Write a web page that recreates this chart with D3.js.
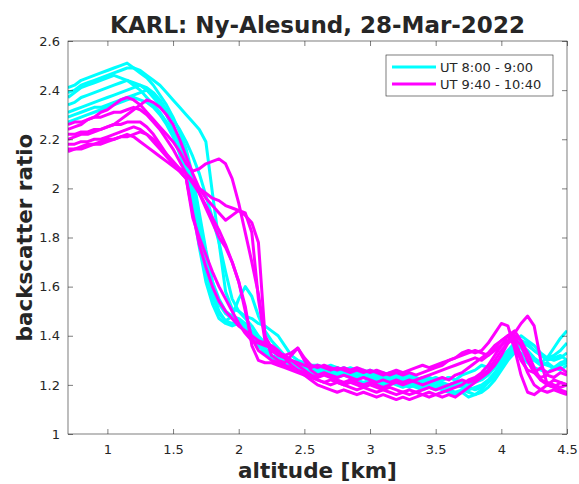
<!DOCTYPE html>
<html>
<head>
<meta charset="utf-8">
<script src="https://cdn.jsdelivr.net/npm/d3@7"></script>
<style>
body { margin: 0; background: #fff; }
text { font-family: "DejaVu Sans", sans-serif; fill: #262626; }
</style>
</head>
<body>
<svg id="chart"></svg>
<script>
// altitude grid [km], 0.7 .. 4.5 step 0.05
var altitude = [0.70,0.75,0.80,0.85,0.90,0.95,1.00,1.05,1.10,1.15,1.20,1.25,1.30,1.35,1.40,1.45,1.50,
  1.55,1.60,1.65,1.70,1.75,1.80,1.85,1.90,1.95,2.00,2.05,2.10,2.15,2.20,2.25,2.30,2.35,2.40,2.45,2.50,
  2.55,2.60,2.65,2.70,2.75,2.80,2.85,2.90,2.95,3.00,3.05,3.10,3.15,3.20,3.25,3.30,3.35,3.40,3.45,3.50,
  3.55,3.60,3.65,3.70,3.75,3.80,3.85,3.90,3.95,4.00,4.05,4.10,4.15,4.20,4.25,4.30,4.35,4.40,4.45,4.50];

// UT 8:00 - 9:00 profiles (cyan)
var early = [
 [2.41,2.42,2.44,2.45,2.46,2.47,2.48,2.49,2.50,2.51,2.49,2.47,2.45,2.42,2.38,2.34,2.29,
  2.23,2.16,2.05,1.90,1.75,1.62,1.53,1.49,1.47,1.46,1.44,1.41,1.38,1.35,1.32,1.31,1.29,1.28,1.28,1.27,
  1.27,1.26,1.27,1.26,1.25,1.26,1.25,1.24,1.25,1.24,1.23,1.24,1.23,1.22,1.23,1.22,1.22,1.21,1.22,1.21,
  1.21,1.20,1.21,1.20,1.21,1.22,1.24,1.26,1.28,1.31,1.34,1.37,1.40,1.38,1.36,1.33,1.31,1.32,1.34,1.37,1.36],
 [2.39,2.40,2.42,2.43,2.44,2.45,2.46,2.47,2.48,2.49,2.49,2.48,2.46,2.44,2.42,2.39,2.36,
  2.33,2.30,2.27,2.24,2.19,1.98,1.78,1.58,1.51,1.50,1.48,1.47,1.45,1.44,1.42,1.40,1.36,1.32,1.30,1.29,
  1.28,1.28,1.27,1.28,1.27,1.26,1.27,1.26,1.25,1.26,1.25,1.24,1.25,1.24,1.23,1.24,1.23,1.22,1.23,1.22,
  1.22,1.23,1.22,1.24,1.25,1.26,1.28,1.27,1.29,1.30,1.32,1.34,1.33,1.31,1.30,1.29,1.31,1.35,1.39,1.42,1.43],
 [2.37,2.39,2.41,2.42,2.43,2.44,2.45,2.46,2.45,2.44,2.42,2.40,2.37,2.34,2.31,2.27,2.23,
  2.18,2.12,2.00,1.85,1.70,1.58,1.50,1.46,1.48,1.55,1.60,1.56,1.48,1.42,1.38,1.35,1.32,1.30,1.29,1.28,
  1.27,1.28,1.27,1.26,1.27,1.26,1.25,1.24,1.23,1.22,1.22,1.21,1.20,1.21,1.20,1.19,1.20,1.19,1.20,1.19,
  1.18,1.17,1.16,1.17,1.15,1.16,1.18,1.21,1.24,1.28,1.33,1.36,1.35,1.32,1.30,1.28,1.29,1.27,1.28,1.29,1.30],
 [2.34,2.35,2.37,2.38,2.39,2.40,2.41,2.42,2.43,2.44,2.43,2.42,2.40,2.37,2.34,2.30,2.25,
  2.20,2.14,2.04,1.88,1.73,1.62,1.55,1.50,1.48,1.47,1.45,1.42,1.39,1.37,1.34,1.32,1.30,1.29,1.28,1.27,
  1.27,1.26,1.25,1.26,1.25,1.24,1.25,1.24,1.23,1.24,1.23,1.22,1.23,1.22,1.21,1.22,1.21,1.20,1.21,1.20,
  1.20,1.19,1.20,1.19,1.18,1.19,1.20,1.22,1.25,1.29,1.32,1.35,1.38,1.37,1.34,1.32,1.31,1.30,1.31,1.33,1.34],
 [2.31,2.32,2.33,2.34,2.35,2.36,2.37,2.38,2.39,2.40,2.41,2.42,2.41,2.39,2.36,2.32,2.28,
  2.24,2.19,2.13,2.06,1.97,1.88,1.78,1.66,1.55,1.50,1.47,1.44,1.40,1.37,1.34,1.32,1.30,1.29,1.28,1.27,
  1.28,1.27,1.26,1.27,1.26,1.27,1.26,1.25,1.26,1.25,1.24,1.25,1.24,1.23,1.24,1.23,1.22,1.23,1.22,1.23,
  1.22,1.23,1.22,1.21,1.20,1.21,1.22,1.24,1.27,1.30,1.33,1.35,1.37,1.36,1.34,1.32,1.30,1.31,1.32,1.30,1.31],
 [2.29,2.30,2.31,2.32,2.33,2.33,2.34,2.35,2.36,2.37,2.38,2.39,2.40,2.38,2.35,2.30,2.24,
  2.17,2.08,1.96,1.80,1.66,1.56,1.49,1.46,1.45,1.46,1.43,1.40,1.37,1.34,1.32,1.30,1.29,1.28,1.27,1.26,
  1.26,1.25,1.26,1.25,1.24,1.25,1.24,1.23,1.24,1.23,1.22,1.23,1.22,1.21,1.22,1.21,1.20,1.21,1.20,1.19,
  1.19,1.18,1.17,1.18,1.17,1.16,1.17,1.19,1.22,1.26,1.30,1.33,1.36,1.34,1.31,1.29,1.28,1.27,1.29,1.30,1.29],
 [2.27,2.28,2.29,2.30,2.31,2.32,2.33,2.34,2.35,2.36,2.37,2.36,2.35,2.33,2.30,2.26,2.21,
  2.14,2.06,1.92,1.76,1.62,1.53,1.47,1.45,1.44,1.45,1.42,1.39,1.36,1.33,1.31,1.30,1.28,1.27,1.26,1.25,
  1.25,1.24,1.25,1.24,1.23,1.24,1.23,1.22,1.21,1.22,1.21,1.20,1.21,1.20,1.19,1.20,1.19,1.18,1.19,1.18,
  1.19,1.20,1.21,1.20,1.19,1.18,1.19,1.21,1.23,1.27,1.31,1.34,1.32,1.29,1.27,1.26,1.25,1.27,1.26,1.28,1.27]
];

// UT 9:40 - 10:40 profiles (magenta)
var late = [
 [2.24,2.25,2.26,2.28,2.29,2.31,2.32,2.34,2.36,2.37,2.36,2.34,2.31,2.28,2.25,2.22,2.19,
  2.15,2.10,2.07,2.08,2.10,2.11,2.12,2.10,2.04,1.94,1.82,1.70,1.57,1.40,1.35,1.33,1.32,1.33,1.35,1.31,
  1.28,1.27,1.28,1.27,1.26,1.27,1.26,1.27,1.26,1.25,1.26,1.25,1.24,1.25,1.24,1.25,1.24,1.25,1.26,1.27,
  1.28,1.30,1.31,1.33,1.34,1.33,1.34,1.37,1.41,1.45,1.44,1.35,1.24,1.17,1.16,1.18,1.20,1.22,1.21,1.20,1.22],
 [2.20,2.21,2.22,2.22,2.23,2.24,2.25,2.26,2.28,2.30,2.32,2.34,2.36,2.35,2.33,2.30,2.26,
  2.20,2.13,2.06,2.00,1.96,1.93,1.90,1.87,1.89,1.91,1.90,1.82,1.55,1.38,1.34,1.32,1.31,1.30,1.29,1.28,
  1.27,1.28,1.27,1.26,1.27,1.26,1.25,1.26,1.25,1.26,1.25,1.24,1.25,1.26,1.25,1.26,1.27,1.28,1.27,1.28,
  1.29,1.30,1.31,1.32,1.33,1.34,1.33,1.32,1.34,1.36,1.38,1.41,1.45,1.48,1.44,1.30,1.20,1.19,1.21,1.20,1.21],
 [2.26,2.27,2.27,2.28,2.29,2.29,2.30,2.31,2.31,2.32,2.33,2.32,2.30,2.27,2.24,2.20,2.16,
  2.11,2.06,2.02,1.98,1.93,1.88,1.83,1.77,1.70,1.62,1.50,1.39,1.34,1.32,1.30,1.29,1.28,1.27,1.26,1.25,
  1.24,1.23,1.24,1.23,1.22,1.21,1.22,1.21,1.20,1.21,1.20,1.19,1.20,1.21,1.20,1.21,1.22,1.23,1.24,1.25,
  1.26,1.27,1.28,1.29,1.30,1.31,1.30,1.32,1.35,1.38,1.40,1.42,1.38,1.30,1.25,1.22,1.21,1.20,1.19,1.20,1.18],
 [2.22,2.22,2.23,2.23,2.24,2.24,2.25,2.26,2.26,2.27,2.27,2.27,2.25,2.22,2.18,2.14,2.10,
  2.07,2.04,1.88,1.80,1.73,1.66,1.60,1.55,1.50,1.45,1.41,1.38,1.37,1.36,1.35,1.33,1.32,1.30,1.28,1.26,
  1.24,1.22,1.21,1.20,1.21,1.20,1.19,1.18,1.19,1.18,1.17,1.18,1.17,1.16,1.17,1.16,1.17,1.16,1.15,1.16,
  1.15,1.16,1.15,1.17,1.19,1.21,1.23,1.25,1.28,1.32,1.37,1.40,1.38,1.33,1.27,1.22,1.20,1.19,1.18,1.17,1.16],
 [2.18,2.18,2.19,2.19,2.20,2.20,2.21,2.22,2.23,2.24,2.25,2.24,2.22,2.20,2.17,2.14,2.11,
  2.08,2.06,2.03,1.98,1.92,1.86,1.80,1.76,1.70,1.62,1.52,1.36,1.30,1.29,1.29,1.28,1.27,1.26,1.25,1.24,
  1.22,1.20,1.19,1.18,1.17,1.18,1.17,1.16,1.17,1.16,1.15,1.16,1.15,1.14,1.15,1.14,1.15,1.16,1.17,1.16,
  1.17,1.18,1.19,1.20,1.22,1.23,1.25,1.28,1.32,1.36,1.40,1.38,1.32,1.25,1.20,1.18,1.17,1.18,1.17,1.16,1.15],
 [2.16,2.16,2.17,2.18,2.18,2.19,2.20,2.20,2.21,2.22,2.21,2.19,2.17,2.15,2.13,2.11,2.09,
  2.07,2.04,1.90,1.77,1.68,1.60,1.54,1.50,1.47,1.44,1.42,1.40,1.38,1.37,1.36,1.34,1.31,1.28,1.26,1.24,
  1.23,1.22,1.21,1.22,1.21,1.20,1.21,1.20,1.19,1.20,1.19,1.18,1.19,1.18,1.17,1.18,1.17,1.18,1.19,1.18,
  1.19,1.20,1.21,1.22,1.21,1.22,1.24,1.26,1.30,1.34,1.37,1.39,1.36,1.30,1.25,1.23,1.24,1.23,1.25,1.24,1.26],
 [2.15,2.16,2.16,2.17,2.18,2.18,2.19,2.20,2.21,2.21,2.22,2.23,2.22,2.19,2.16,2.13,2.10,
  2.08,2.06,2.03,2.00,1.98,1.96,1.95,1.93,1.92,1.91,1.89,1.86,1.78,1.40,1.32,1.30,1.29,1.32,1.35,1.30,
  1.26,1.24,1.25,1.24,1.23,1.24,1.23,1.22,1.23,1.22,1.21,1.22,1.21,1.22,1.21,1.22,1.21,1.20,1.21,1.22,
  1.23,1.22,1.24,1.25,1.27,1.29,1.31,1.33,1.36,1.38,1.40,1.36,1.30,1.26,1.25,1.27,1.25,1.26,1.27,1.25,1.26]
];

var xTicks = [1, 1.5, 2, 2.5, 3, 3.5, 4, 4.5];
var yTicks = [1, 1.2, 1.4, 1.6, 1.8, 2, 2.2, 2.4, 2.6];
var legendLabels = ["UT 8:00 - 9:00", "UT 9:40 - 10:40"];
var colors = ["#00ffff", "#ff00ff"];

var svgWidth = 579, svgHeight = 484;
var margin = {top: 41, right: 12, bottom: 50, left: 68};
var width = svgWidth - margin.left - margin.right;
var height = svgHeight - margin.top - margin.bottom;

var svg = d3.select("#chart")
	.attr("width", svgWidth)
	.attr("height", svgHeight);

var g = svg.append("g")
	.attr("transform", "translate(" + margin.left + "," + margin.top + ")");

var x = d3.scaleLinear().domain([0.7, 4.5]).range([0, width]);
var y = d3.scaleLinear().domain([1, 2.6]).range([height, 0]);

g.append("defs").append("clipPath").attr("id", "clip")
	.append("rect").attr("width", width).attr("height", height);

var line = d3.line()
	.defined(function(d) { return d[1] != null; })
	.x(function(d) { return x(d[0]); })
	.y(function(d) { return y(d[1]); });

function profile(vals) {
	return altitude.map(function(a, i) { return [a, vals[i]]; });
}

var plot = g.append("g").attr("clip-path", "url(#clip)");
[early, late].forEach(function(group, k) {
	plot.selectAll(null)
		.data(group)
		.enter().append("path")
		.attr("fill", "none")
		.attr("stroke", colors[k])
		.attr("stroke-width", 3)
		.attr("stroke-linejoin", "round")
		.attr("d", function(d) { return line(profile(d)); });
});

// axes, MATLAB style: ticks inside, box on
var fmt = function(d) { return String(d); };
var axisStyle = function(sel) {
	sel.select(".domain").remove();
	sel.selectAll(".tick line").attr("stroke", "#262626").attr("stroke-width", 0.6);
	sel.selectAll(".tick text").style("font-size", "13px").attr("fill", "#262626");
};

g.append("g")
	.attr("transform", "translate(0," + height + ")")
	.call(d3.axisBottom(x).tickValues(xTicks).tickFormat(fmt).tickSizeInner(-5).tickPadding(11))
	.call(axisStyle);
g.append("g")
	.call(d3.axisTop(x).tickValues(xTicks).tickSizeInner(-5).tickFormat(""))
	.call(axisStyle);
g.append("g")
	.call(d3.axisLeft(y).tickValues(yTicks).tickFormat(fmt).tickSizeInner(-5).tickPadding(8))
	.call(axisStyle);
g.append("g")
	.attr("transform", "translate(" + width + ",0)")
	.call(d3.axisRight(y).tickValues(yTicks).tickSizeInner(-5).tickFormat(""))
	.call(axisStyle);

g.append("rect")
	.attr("width", width).attr("height", height)
	.attr("fill", "none")
	.attr("stroke", "#262626")
	.attr("stroke-width", 0.6);

// labels
svg.append("text")
	.attr("x", margin.left + width / 2).attr("y", 33)
	.attr("text-anchor", "middle")
	.style("font-size", "23px").style("font-weight", "bold")
	.attr("fill", "#000")
	.text("KARL: Ny-Alesund, 28-Mar-2022");

svg.append("text")
	.attr("x", margin.left + width / 2).attr("y", 478)
	.attr("text-anchor", "middle")
	.style("font-size", "21.5px").style("font-weight", "bold")
	.text("altitude [km]");

svg.append("text")
	.attr("transform", "translate(32," + (margin.top + height / 2) + ") rotate(-90)")
	.attr("text-anchor", "middle")
	.style("font-size", "21.5px").style("font-weight", "bold")
	.text("backscatter ratio");

// legend
var lg = svg.append("g").attr("transform", "translate(386,55)");
lg.append("rect")
	.attr("width", 167).attr("height", 41)
	.attr("fill", "#fff")
	.attr("stroke", "#262626").attr("stroke-width", 0.6);
legendLabels.forEach(function(lab, i) {
	lg.append("line")
		.attr("x1", 6).attr("x2", 50)
		.attr("y1", 12 + i * 17).attr("y2", 12 + i * 17)
		.attr("stroke", colors[i]).attr("stroke-width", 3);
	lg.append("text")
		.attr("x", 54).attr("y", 17 + i * 17)
		.style("font-size", "13px")
		.text(lab);
});
</script>
</body>
</html>
